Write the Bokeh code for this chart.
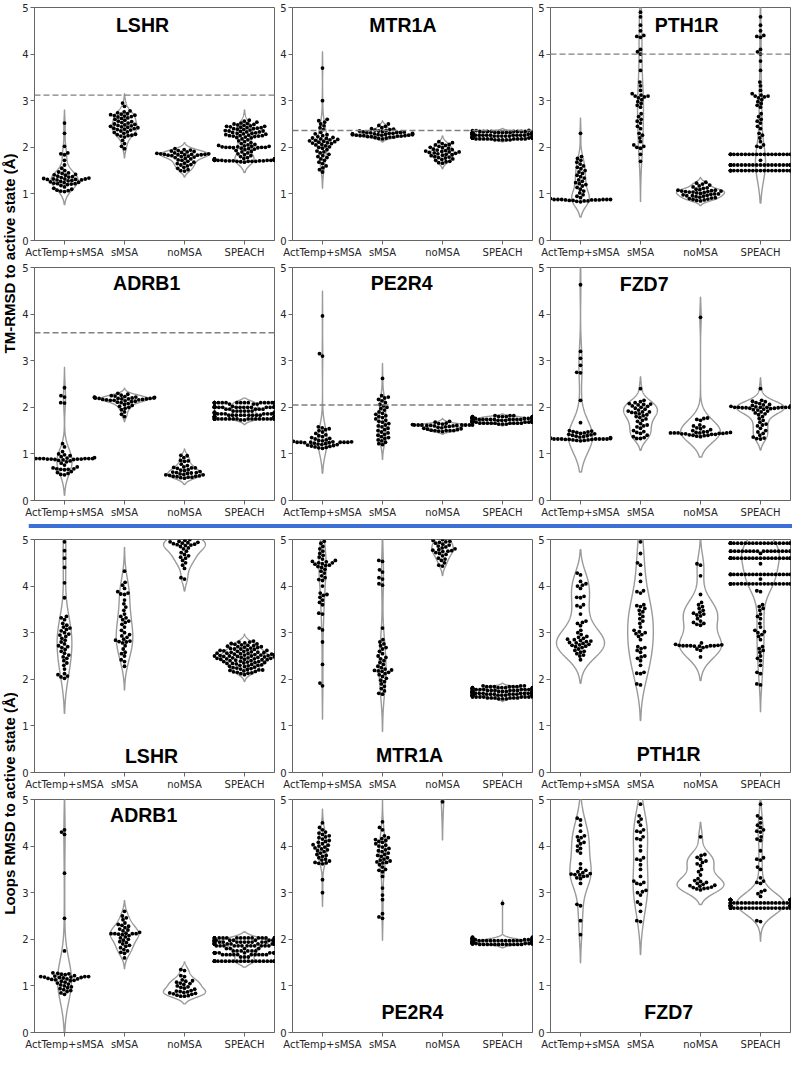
import numpy as np
from bokeh.plotting import figure
from bokeh.layouts import row, column
from bokeh.models import Range1d, FixedTicker, Span, Label
from bokeh.embed import file_html
from bokeh.resources import INLINE

CATEGORIES = ["ActTemp+sMSA", "sMSA", "noMSA", "SPEACH"]
Y_TICKS = [0, 1, 2, 3, 4, 5]
TM_LABEL = "TM-RMSD to active state (Å)"
LOOPS_LABEL = "Loops RMSD to active state (Å)"

# ---------------- TM-RMSD data ----------------
TM_LSHR_ACT = [2.52, 2.30, 2.02, 1.88, 1.86, 1.84, 1.72, 1.62, 1.55, 1.50, 1.47, 1.45, 1.44, 1.42, 1.41, 1.40,
               1.38, 1.37, 1.36, 1.35, 1.34, 1.33, 1.32, 1.32, 1.32, 1.31, 1.31, 1.30, 1.30, 1.29, 1.28, 1.27,
               1.26, 1.25, 1.24, 1.23, 1.22, 1.22, 1.21, 1.20, 1.18, 1.15, 1.12, 1.10, 1.08, 1.07, 1.06, 1.05]
TM_LSHR_SMSA = [2.95, 2.88, 2.78, 2.76, 2.74, 2.72, 2.71, 2.70, 2.69, 2.68, 2.67, 2.66, 2.65, 2.63, 2.62, 2.60,
                2.58, 2.56, 2.55, 2.53, 2.52, 2.50, 2.49, 2.48, 2.47, 2.46, 2.45, 2.44, 2.43, 2.42, 2.41, 2.40,
                2.39, 2.38, 2.37, 2.35, 2.33, 2.32, 2.30, 2.28, 2.27, 2.26, 2.25, 2.24, 2.22, 2.15, 2.08, 2.02, 1.97]
TM_LSHR_NOMSA = [1.97, 1.95, 1.94, 1.93, 1.92, 1.91, 1.90, 1.89, 1.88, 1.87, 1.86, 1.86, 1.85, 1.85, 1.85, 1.84,
                 1.84, 1.84, 1.83, 1.83, 1.82, 1.81, 1.80, 1.79, 1.78, 1.76, 1.75, 1.73, 1.72, 1.70, 1.68, 1.66,
                 1.65, 1.63, 1.62, 1.60, 1.57, 1.55, 1.52, 1.50, 1.49]
TM_LSHR_SPEACH = [2.58, 2.56, 2.54, 2.52, 2.51, 2.50, 2.49, 2.48, 2.47, 2.46, 2.45, 2.45, 2.44, 2.43, 2.42, 2.42,
                  2.41, 2.40, 2.40, 2.39, 2.38, 2.37, 2.36, 2.35, 2.35, 2.34, 2.33, 2.33, 2.32, 2.31, 2.30, 2.30,
                  2.29, 2.28, 2.27, 2.26, 2.25, 2.25, 2.25, 2.24, 2.24, 2.23, 2.22, 2.21, 2.20, 2.18, 2.16, 2.14,
                  2.12, 2.10, 2.08, 2.06, 2.05, 2.04, 2.03, 2.02, 2.02, 2.01, 2.01, 2.00, 2.00, 2.00, 2.00, 1.99,
                  1.99, 1.98, 1.97, 1.96, 1.95, 1.93, 1.91, 1.90, 1.88, 1.86, 1.84, 1.82, 1.80, 1.78, 1.76] + \
                 [1.75] * 4 + [1.74] * 4 + [1.73] * 5 + [1.72] * 8 + [1.71] * 5 + [1.70] * 4 + [1.69, 1.68]

TM_MTR1A_ACT = [3.70, 3.00, 2.60, 2.57, 2.54, 2.50, 2.46, 2.42, 2.38, 2.32, 2.29, 2.27, 2.25, 2.23, 2.21, 2.20,
                2.19, 2.18, 2.17, 2.16, 2.15, 2.14, 2.13, 2.12, 2.11, 2.10, 2.09, 2.08, 2.06, 2.05, 2.03, 2.01,
                2.00, 1.98, 1.95, 1.92, 1.90, 1.88, 1.85, 1.82, 1.80, 1.78, 1.75, 1.72, 1.68, 1.65, 1.60, 1.56,
                1.52, 1.47]
TM_MTR1A_SMSA = [2.50, 2.47, 2.45, 2.42, 2.40, 2.39, 2.38, 2.37, 2.36, 2.35, 2.35, 2.34, 2.33, 2.33, 2.32, 2.32,
                 2.31, 2.31, 2.30, 2.30, 2.30, 2.29, 2.29, 2.28, 2.28, 2.28, 2.27, 2.27, 2.27, 2.26, 2.26, 2.26,
                 2.25, 2.25, 2.25, 2.24, 2.24, 2.23, 2.23, 2.22, 2.22, 2.21, 2.20, 2.19, 2.18]
TM_MTR1A_NOMSA = [2.12, 2.10, 2.08, 2.06, 2.05, 2.04, 2.02, 2.00, 1.99, 1.98, 1.96, 1.95, 1.94, 1.93, 1.92, 1.91,
                  1.90, 1.90, 1.89, 1.88, 1.87, 1.86, 1.85, 1.84, 1.83, 1.82, 1.80, 1.79, 1.78, 1.77, 1.75, 1.74,
                  1.72, 1.70, 1.69, 1.67, 1.66]
TM_MTR1A_SPEACH = [2.36] * 3 + [2.34] * 8 + [2.32] * 11 + [2.30] * 12 + [2.28] * 12 + [2.26] * 10 + \
                  [2.24] * 10 + [2.22] * 12 + [2.20] * 14 + [2.18] * 9 + [2.16] * 5

TM_PTH1R_ACT = [2.30, 1.80, 1.76, 1.72, 1.68, 1.64, 1.60, 1.57, 1.54, 1.50, 1.47, 1.44, 1.40, 1.37, 1.34, 1.30,
                1.27, 1.24, 1.22, 1.20, 1.17, 1.14, 1.10, 1.06, 1.02, 0.98, 0.95, 0.92, 0.90, 0.88, 0.88, 0.88,
                0.88, 0.88, 0.88, 0.87, 0.87, 0.87, 0.87, 0.86, 0.86, 0.85, 0.85, 0.84, 0.83]
TM_PTH1R_SMSA = [5.10, 4.90, 4.80, 4.62, 4.50, 4.40, 4.38, 4.36, 4.10, 4.05, 4.00, 3.85, 3.65, 3.40, 3.32, 3.22,
                 3.15, 3.12, 3.10, 3.10, 3.08, 3.06, 3.02, 2.98, 2.94, 2.90, 2.86, 2.72, 2.66, 2.60, 2.56, 2.52,
                 2.45, 2.40, 2.30, 2.26, 2.20, 2.12, 2.05, 2.02, 2.00, 1.98, 1.85, 1.70]
TM_PTH1R_NOMSA = [1.25, 1.23, 1.21, 1.19, 1.17, 1.15, 1.13, 1.12, 1.10, 1.09, 1.08, 1.08, 1.07, 1.06, 1.06, 1.05,
                  1.05, 1.04, 1.04, 1.03, 1.02, 1.01, 1.00, 1.00, 0.99, 0.98, 0.97, 0.96, 0.96, 0.95, 0.94, 0.93,
                  0.92, 0.91, 0.90, 0.89, 0.88, 0.87, 0.86, 0.85]
TM_PTH1R_SPEACH = [4.80, 4.62, 4.50, 4.40, 4.38, 4.36, 4.10, 4.05, 4.00, 3.85, 3.65, 3.40, 3.32, 3.22, 3.15, 3.12,
                   3.10, 3.10, 3.08, 3.06, 3.02, 2.98, 2.94, 2.90, 2.86, 2.72, 2.66, 2.60, 2.56, 2.52, 2.45, 2.40,
                   2.30, 2.26, 2.20, 2.12, 2.05, 2.02, 2.00, 1.72] + [1.85] * 20 + [1.62] * 22 + [1.50] * 22

TM_ADRB1_ACT = [2.42, 2.25, 2.22, 2.10, 2.09, 1.22, 1.15, 1.05, 1.00, 0.98, 0.96, 0.94, 0.92, 0.91, 0.90, 0.90,
                0.90, 0.90, 0.90, 0.90, 0.89, 0.89, 0.89, 0.89, 0.88, 0.88, 0.87, 0.86, 0.85, 0.83, 0.80, 0.76,
                0.72, 0.70, 0.68, 0.68, 0.67, 0.67, 0.66, 0.62, 0.60, 0.58, 0.56, 0.55]
TM_ADRB1_SMSA = [2.30, 2.28, 2.26, 2.25, 2.24, 2.23, 2.22, 2.22, 2.21, 2.21, 2.20, 2.20, 2.20, 2.19, 2.19, 2.19,
                 2.18, 2.18, 2.18, 2.17, 2.17, 2.16, 2.16, 2.15, 2.15, 2.14, 2.13, 2.12, 2.11, 2.10, 2.08, 2.06,
                 2.04, 2.02, 2.00, 1.98, 1.95, 1.90, 1.85, 1.80]
TM_ADRB1_NOMSA = [0.97, 0.96, 0.92, 0.86, 0.85, 0.84, 0.78, 0.75, 0.72, 0.71, 0.70, 0.70, 0.69, 0.66, 0.65, 0.64,
                  0.62, 0.61, 0.60, 0.60, 0.59, 0.58, 0.57, 0.56, 0.55, 0.55, 0.54, 0.53, 0.52, 0.52, 0.51, 0.50,
                  0.50, 0.49, 0.48]
TM_ADRB1_SPEACH = [2.10] * 20 + [2.07] * 3 + [2.02] * 4 + [2.00] * 20 + [1.96] * 5 + [1.92] * 6 + [1.89] * 7 + \
                  [1.86] * 8 + [1.83] * 9 + [1.80] * 8 + [1.78] * 5 + [1.75] * 20 + [1.73] * 2

TM_PE2R4_ACT = [3.96, 3.15, 3.10, 1.58, 1.56, 1.54, 1.52, 1.50, 1.47, 1.44, 1.41, 1.39, 1.37, 1.35, 1.33, 1.32,
                1.30, 1.29, 1.28, 1.27, 1.26, 1.26, 1.25, 1.25, 1.25, 1.25, 1.25, 1.25, 1.24, 1.24, 1.23, 1.22,
                1.21, 1.20, 1.20, 1.19, 1.18, 1.17, 1.16, 1.15, 1.14, 1.13, 1.12]
TM_PE2R4_SMSA = [2.62, 2.25, 2.22, 2.20, 2.17, 2.14, 2.10, 2.06, 2.03, 2.00, 1.97, 1.94, 1.90, 1.87, 1.85, 1.82,
                 1.80, 1.78, 1.75, 1.72, 1.70, 1.68, 1.65, 1.62, 1.60, 1.58, 1.55, 1.52, 1.50, 1.47, 1.45, 1.42,
                 1.40, 1.37, 1.35, 1.33, 1.30, 1.28, 1.25, 1.22, 1.20]
TM_PE2R4_NOMSA = [1.70, 1.68, 1.66, 1.65, 1.64, 1.63, 1.62, 1.62, 1.62, 1.62, 1.62, 1.62, 1.62, 1.61, 1.61, 1.61,
                  1.60, 1.60, 1.59, 1.58, 1.57, 1.56, 1.55, 1.54, 1.53, 1.52, 1.51, 1.50, 1.50, 1.50, 1.50, 1.49,
                  1.48]
TM_PE2R4_SPEACH = [1.82] * 3 + [1.80] * 9 + [1.78] * 12 + [1.76] * 12 + [1.74] * 10 + [1.72] * 10 + \
                  [1.70] * 12 + [1.68] * 12 + [1.66] * 9 + [1.64] * 3

TM_FZD7_ACT = [4.63, 3.20, 3.05, 2.90, 2.75, 2.74, 2.15, 1.67, 1.50, 1.49, 1.48, 1.47, 1.46, 1.45, 1.44, 1.43,
               1.42, 1.41, 1.40, 1.39, 1.38, 1.37, 1.36, 1.35, 1.34, 1.33, 1.33, 1.32, 1.32, 1.32, 1.32, 1.32,
               1.32, 1.32, 1.31, 1.31, 1.31, 1.30, 1.30, 1.29, 1.29, 1.28]
TM_FZD7_SMSA = [2.40, 2.15, 2.12, 2.10, 2.08, 2.07, 2.06, 2.05, 2.03, 2.02, 2.00, 1.98, 1.96, 1.94, 1.92, 1.90,
                1.90, 1.89, 1.88, 1.86, 1.84, 1.82, 1.80, 1.78, 1.75, 1.72, 1.70, 1.65, 1.62, 1.60, 1.58, 1.55,
                1.50, 1.48, 1.46, 1.44, 1.40, 1.37, 1.35, 1.33, 1.33]
TM_FZD7_NOMSA = [3.93, 1.77, 1.76, 1.74, 1.72, 1.62, 1.60, 1.58, 1.56, 1.54, 1.52, 1.50, 1.48, 1.47, 1.46, 1.46,
                 1.45, 1.45, 1.45, 1.45, 1.45, 1.44, 1.44, 1.43, 1.43, 1.42, 1.42, 1.41, 1.40, 1.40, 1.39, 1.38,
                 1.37]
TM_FZD7_SPEACH = [2.40, 2.15, 2.13, 2.12, 2.10, 2.08, 2.06, 2.05, 2.04, 2.03, 2.02, 2.01, 2.00, 2.00, 2.00, 2.00,
                  2.00, 2.00, 2.00, 1.99, 1.99, 1.99, 1.98, 1.98, 1.97, 1.96, 1.95, 1.94, 1.92, 1.90, 1.88, 1.86,
                  1.84, 1.80, 1.76, 1.72, 1.68, 1.64, 1.62, 1.60, 1.55, 1.50, 1.47, 1.44, 1.40, 1.36, 1.34, 1.33,
                  1.32]

# ---------------- Loops RMSD data ----------------
LP_LSHR_ACT = [5.10, 4.95, 4.76, 4.60, 4.40, 4.07, 3.75, 3.35, 3.32, 3.28, 3.20, 3.16, 3.12, 3.10, 3.07, 3.04,
               3.00, 2.97, 2.95, 2.92, 2.88, 2.84, 2.80, 2.76, 2.72, 2.70, 2.68, 2.64, 2.60, 2.56, 2.52, 2.48,
               2.45, 2.40, 2.35, 2.30, 2.22, 2.12, 2.10, 2.07, 2.05, 2.02]
LP_LSHR_SMSA = [4.32, 4.08, 4.02, 3.95, 3.88, 3.85, 3.83, 3.82, 3.70, 3.62, 3.55, 3.48, 3.40, 3.35, 3.32, 3.28,
                3.25, 3.22, 3.18, 3.12, 3.05, 3.00, 2.96, 2.93, 2.90, 2.86, 2.84, 2.82, 2.81, 2.80, 2.78, 2.72,
                2.65, 2.58, 2.55, 2.50, 2.42, 2.38, 2.28]
LP_LSHR_NOMSA = [5.20, 5.10, 5.05, 5.00, 4.98, 4.96, 4.95, 4.94, 4.93, 4.92, 4.91, 4.90, 4.89, 4.88, 4.87, 4.85,
                 4.82, 4.80, 4.75, 4.72, 4.68, 4.65, 4.62, 4.60, 4.55, 4.50, 4.45, 4.38, 4.18, 4.15]
LP_LSHR_SPEACH = [2.82, 2.80, 2.80, 2.78, 2.77, 2.76, 2.75, 2.74, 2.73, 2.72, 2.71, 2.70, 2.70, 2.69, 2.68, 2.67,
                  2.66, 2.65, 2.65, 2.64, 2.63, 2.62, 2.62, 2.61, 2.60, 2.60, 2.59, 2.58, 2.58, 2.57, 2.56, 2.56,
                  2.55, 2.55, 2.54, 2.54, 2.53, 2.53, 2.52, 2.52, 2.51, 2.51, 2.50, 2.50, 2.50, 2.49, 2.49, 2.48,
                  2.48, 2.47, 2.47, 2.46, 2.46, 2.45, 2.45, 2.44, 2.44, 2.43, 2.43, 2.42, 2.42, 2.41, 2.40, 2.40,
                  2.39, 2.38, 2.38, 2.37, 2.36, 2.36, 2.35, 2.34, 2.34, 2.33, 2.32, 2.31, 2.30, 2.30, 2.29, 2.28,
                  2.27, 2.26, 2.25, 2.24, 2.23, 2.22, 2.21, 2.20, 2.20, 2.19, 2.18, 2.17, 2.16, 2.15, 2.14, 2.13,
                  2.12, 2.10]

LP_MTR1A_ACT = [5.05, 4.96, 4.92, 4.85, 4.80, 4.75, 4.70, 4.66, 4.62, 4.58, 4.55, 4.53, 4.52, 4.50, 4.50, 4.48,
                4.47, 4.45, 4.44, 4.42, 4.40, 4.36, 4.32, 4.28, 4.22, 4.18, 4.14, 4.12, 4.00, 3.85, 3.82, 3.80,
                3.76, 3.70, 3.65, 3.60, 3.42, 3.40, 3.10, 3.06, 2.80, 2.32, 1.92, 1.86]
LP_MTR1A_SMSA = [4.55, 4.53, 4.35, 4.30, 4.18, 4.15, 4.05, 4.02, 3.10, 2.85, 2.80, 2.76, 2.72, 2.68, 2.65, 2.60,
                 2.55, 2.50, 2.47, 2.44, 2.40, 2.36, 2.32, 2.28, 2.25, 2.22, 2.20, 2.19, 2.18, 2.17, 2.15, 2.12,
                 2.10, 2.06, 2.02, 1.98, 1.95, 1.90, 1.85, 1.80, 1.75, 1.70, 1.68]
LP_MTR1A_NOMSA = [5.30, 5.15, 5.05, 5.00, 4.98, 4.96, 4.95, 4.94, 4.92, 4.90, 4.88, 4.86, 4.84, 4.82, 4.80, 4.78,
                  4.77, 4.76, 4.75, 4.74, 4.72, 4.70, 4.68, 4.65, 4.60, 4.58, 4.55, 4.50, 4.45, 4.43]
LP_MTR1A_SPEACH = [1.86] * 3 + [1.84] * 6 + [1.82] * 8 + [1.80] * 9 + [1.78] * 9 + [1.76] * 10 + [1.74] * 10 + \
                  [1.72] * 10 + [1.70] * 10 + [1.68] * 10 + [1.66] * 9 + [1.64] * 9 + [1.62] * 8 + [1.60] * 6 + \
                  [1.58] * 3

LP_PTH1R_ACT = [4.28, 4.24, 4.10, 4.05, 4.02, 4.00, 3.95, 3.78, 3.76, 3.75, 3.60, 3.58, 3.55, 3.40, 3.25, 3.22,
                3.20, 3.15, 3.05, 3.00, 2.96, 2.92, 2.90, 2.88, 2.86, 2.85, 2.83, 2.82, 2.81, 2.79, 2.78, 2.77,
                2.75, 2.74, 2.73, 2.71, 2.70, 2.68, 2.65, 2.62, 2.60, 2.58, 2.55, 2.52, 2.50, 2.42]
LP_PTH1R_SMSA = [5.20, 4.95, 4.70, 4.50, 4.45, 4.25, 4.10, 3.90, 3.88, 3.85, 3.60, 3.58, 3.56, 3.52, 3.48, 3.45,
                 3.40, 3.35, 3.30, 3.25, 3.20, 3.12, 3.05, 3.02, 3.00, 2.98, 2.96, 2.92, 2.85, 2.70, 2.68, 2.66,
                 2.62, 2.58, 2.50, 2.48, 2.45, 2.40, 2.30, 2.15, 2.13, 2.12, 1.90, 1.88]
LP_PTH1R_NOMSA = [4.48, 4.45, 4.22, 3.82, 3.65, 3.60, 3.56, 3.52, 3.48, 3.44, 3.42, 3.40, 3.38, 3.36, 3.30, 3.25,
                  3.22, 3.20, 3.18, 3.16, 2.78, 2.75, 2.74, 2.73, 2.73, 2.72, 2.72, 2.72, 2.72, 2.72, 2.71, 2.71,
                  2.70, 2.68, 2.65, 2.62, 2.48]
LP_PTH1R_SPEACH = [4.92] * 22 + [4.75] * 18 + [4.70] + [4.60] * 22 + [4.48] + [4.25] * 20 + [4.15] + \
                  [4.05] * 20 + [3.90, 3.88, 3.60, 3.56, 3.52, 3.48, 3.40, 3.35, 3.30, 3.20, 3.12, 3.05, 3.02,
                                 3.00, 2.96, 2.92, 2.85, 2.70, 2.66, 2.62, 2.58, 2.50, 2.45, 2.40, 2.30, 2.15,
                                 2.12, 1.90, 1.88]

LP_ADRB1_ACT = [4.35, 4.30, 4.25, 3.42, 2.45, 1.75, 1.28, 1.27, 1.26, 1.25, 1.24, 1.22, 1.21, 1.20, 1.20, 1.20,
                1.19, 1.19, 1.18, 1.18, 1.17, 1.16, 1.15, 1.15, 1.14, 1.13, 1.12, 1.11, 1.10, 1.08, 1.06, 1.04,
                1.02, 1.00, 0.98, 0.96, 0.94, 0.92, 0.90, 0.88, 0.85, 0.82]
LP_ADRB1_SMSA = [2.60, 2.50, 2.46, 2.42, 2.35, 2.32, 2.30, 2.28, 2.25, 2.22, 2.20, 2.18, 2.15, 2.13, 2.12, 2.12,
                 2.12, 2.12, 2.11, 2.10, 2.08, 2.05, 2.03, 2.00, 1.98, 1.95, 1.93, 1.90, 1.87, 1.85, 1.82, 1.78,
                 1.75, 1.72, 1.70, 1.60]
LP_ADRB1_NOMSA = [1.35, 1.33, 1.22, 1.20, 1.13, 1.11, 1.10, 1.08, 1.06, 1.05, 1.03, 1.00, 0.98, 0.97, 0.95, 0.93,
                  0.90, 0.89, 0.88, 0.87, 0.86, 0.85, 0.84, 0.83, 0.82, 0.80, 0.79, 0.78, 0.78]
LP_ADRB1_SPEACH = [2.03] * 18 + [1.98] * 16 + [1.94] * 18 + [1.90] * 18 + [1.86] * 12 + [1.80] * 4 + \
                  [1.75] * 6 + [1.71] * 12 + [1.67] * 10 + [1.62] * 3 + [1.53] * 22

LP_PE2R4_ACT = [4.50, 4.40, 4.35, 4.30, 4.28, 4.25, 4.22, 4.20, 4.18, 4.15, 4.12, 4.10, 4.08, 4.05, 4.03, 4.02,
                4.00, 3.98, 3.96, 3.94, 3.92, 3.90, 3.88, 3.85, 3.82, 3.80, 3.78, 3.75, 3.72, 3.70, 3.68, 3.65,
                3.64, 3.63, 3.62, 3.28, 3.00]
LP_PE2R4_SMSA = [4.52, 4.40, 4.35, 4.22, 4.18, 4.16, 4.14, 4.12, 4.10, 4.08, 4.05, 4.02, 4.00, 3.98, 3.95, 3.92,
                 3.90, 3.88, 3.85, 3.82, 3.80, 3.78, 3.75, 3.72, 3.70, 3.68, 3.66, 3.65, 3.64, 3.60, 3.55, 3.50,
                 3.48, 3.45, 3.35, 3.10, 2.95, 2.85, 2.55, 2.48, 2.45]
LP_PE2R4_NOMSA = [4.95, 5.10, 5.30, 5.50, 5.80, 6.00, 6.20, 6.50, 6.80]
LP_PE2R4_SPEACH = [2.77] + [2.04] * 6 + [2.01] * 10 + [1.99] * 12 + [1.97] * 14 + [1.95] * 16 + [1.93] * 18 + \
                  [1.91] * 18 + [1.89] * 12

LP_FZD7_ACT = [4.60, 4.56, 4.45, 4.32, 4.22, 4.20, 4.18, 4.12, 4.08, 4.05, 4.00, 3.95, 3.90, 3.85, 3.62, 3.52,
               3.48, 3.45, 3.43, 3.41, 3.40, 3.39, 3.38, 3.36, 3.35, 3.32, 3.30, 3.20, 2.75, 2.72, 2.40, 2.10]
LP_FZD7_SMSA = [4.90, 4.65, 4.58, 4.52, 4.45, 4.35, 4.32, 4.30, 4.20, 4.16, 4.14, 4.00, 3.90, 3.75, 3.72, 3.70,
                3.60, 3.50, 3.35, 3.25, 3.22, 3.20, 3.18, 3.05, 3.02, 3.00, 2.95, 2.80, 2.75, 2.60, 2.40, 2.38]
LP_FZD7_NOMSA = [4.20, 3.82, 3.80, 3.76, 3.72, 3.68, 3.65, 3.62, 3.58, 3.50, 3.45, 3.38, 3.30, 3.26, 3.24, 3.22,
                 3.20, 3.18, 3.16, 3.15, 3.14, 3.12, 3.11, 3.10, 3.09, 3.08, 3.06]
LP_FZD7_SPEACH = [4.90, 4.65, 4.60, 4.50, 4.45, 4.40, 4.35, 4.32, 4.30, 4.20, 4.15, 4.12, 3.90, 3.75, 3.72, 3.70,
                  3.55, 3.50, 3.32, 3.25, 3.22, 3.20, 3.05, 3.02, 2.98, 2.92] + \
                 [2.85] * 22 + [2.78] * 22 + [2.72] * 22 + [2.67] * 20 + [2.40, 2.38]

# panel names, reference (dashed) lines
PANEL_NAMES = ["LSHR", "MTR1A", "PTH1R", "ADRB1", "PE2R4", "FZD7",
               "LSHR", "MTR1A", "PTH1R", "ADRB1", "PE2R4", "FZD7"]
REF_LINES = [3.12, 2.36, 4.00, 3.60, 2.05, None, None, None, None, None, None, None]

PANEL_DATA = [
    [TM_LSHR_ACT, TM_LSHR_SMSA, TM_LSHR_NOMSA, TM_LSHR_SPEACH],
    [TM_MTR1A_ACT, TM_MTR1A_SMSA, TM_MTR1A_NOMSA, TM_MTR1A_SPEACH],
    [TM_PTH1R_ACT, TM_PTH1R_SMSA, TM_PTH1R_NOMSA, TM_PTH1R_SPEACH],
    [TM_ADRB1_ACT, TM_ADRB1_SMSA, TM_ADRB1_NOMSA, TM_ADRB1_SPEACH],
    [TM_PE2R4_ACT, TM_PE2R4_SMSA, TM_PE2R4_NOMSA, TM_PE2R4_SPEACH],
    [TM_FZD7_ACT, TM_FZD7_SMSA, TM_FZD7_NOMSA, TM_FZD7_SPEACH],
    [LP_LSHR_ACT, LP_LSHR_SMSA, LP_LSHR_NOMSA, LP_LSHR_SPEACH],
    [LP_MTR1A_ACT, LP_MTR1A_SMSA, LP_MTR1A_NOMSA, LP_MTR1A_SPEACH],
    [LP_PTH1R_ACT, LP_PTH1R_SMSA, LP_PTH1R_NOMSA, LP_PTH1R_SPEACH],
    [LP_ADRB1_ACT, LP_ADRB1_SMSA, LP_ADRB1_NOMSA, LP_ADRB1_SPEACH],
    [LP_PE2R4_ACT, LP_PE2R4_SMSA, LP_PE2R4_NOMSA, LP_PE2R4_SPEACH],
    [LP_FZD7_ACT, LP_FZD7_SMSA, LP_FZD7_NOMSA, LP_FZD7_SPEACH],
]

# ---------------- layout / style (not data) ----------------
TITLE_POS = [(1.30, 4.62), (1.34, 4.62), (1.77, 4.62),
             (1.37, 4.66), (1.32, 4.66), (1.06, 4.64),
             (1.45, 0.36), (1.45, 0.38), (1.47, 0.40),
             (1.32, 4.66), (1.50, 0.43), (1.47, 0.43)]
FIG_W, FIG_H = 258, 260
B_L, B_R, B_T, B_B = 16, 2, 7, 19
FRAME_W = FIG_W - B_L - B_R
FRAME_H = FIG_H - B_T - B_B
SEP_H = 12
DOT = 3.8
VIOLIN_COLOR = "#9a9a9a"
SPINE = "#666666"
TICK_TEXT = "#262626"


def kde(vals, cut=2.0, n=240):
    v = np.asarray(vals, dtype=float)
    bw = len(v) ** (-0.2) * v.std(ddof=1)
    grid = np.linspace(v.min() - cut * bw, v.max() + cut * bw, n)
    dens = np.exp(-0.5 * ((grid[:, None] - v[None, :]) / bw) ** 2).sum(axis=1) / (len(v) * bw * np.sqrt(2 * np.pi))
    return grid, dens


def swarm_offsets(vals, ypx, d, maxoff):
    v = np.asarray(vals, dtype=float)
    order = np.argsort(v, kind="stable")
    placed_x, placed_y = [], []
    offs = np.zeros(len(v))
    for i in order:
        y = v[i] * ypx
        nb = [(px, py) for px, py in zip(placed_x, placed_y) if abs(py - y) < d]
        cands = [0.0]
        for px, py in nb:
            dx = np.sqrt(max(d * d - (py - y) ** 2, 0.0))
            cands += [px + dx, px - dx]
        cands.sort(key=lambda c: (abs(c), c))
        chosen = cands[-1]
        for c in cands:
            if all((c - px) ** 2 + (y - py) ** 2 >= d * d - 1e-6 for px, py in nb):
                chosen = c
                break
        placed_x.append(chosen)
        placed_y.append(y)
        offs[i] = chosen
    return np.clip(offs, -maxoff, maxoff)


def make_panel(k):
    groups = PANEL_DATA[k]
    p = figure(width=FIG_W, height=FIG_H, x_range=Range1d(-0.5, 3.5), y_range=Range1d(0, 5),
               output_backend="svg", toolbar_location=None,
               min_border_left=B_L, min_border_right=B_R, min_border_top=B_T, min_border_bottom=B_B)
    p.grid.visible = False
    p.outline_line_color = SPINE
    p.outline_line_width = 1.0
    xppu = FRAME_W / 4.0
    yppu = FRAME_H / 5.0

    kdes = [kde(g) for g in groups]
    maxd = max(d.max() for _, d in kdes)
    for i, (grid, dens) in enumerate(kdes):
        hw = 0.4 * dens / maxd
        xs = np.concatenate([i + hw, (i - hw)[::-1]])
        ys = np.concatenate([grid, grid[::-1]])
        p.patch(xs, ys, fill_color=None, line_color=VIOLIN_COLOR, line_width=1.4)

    for i, g in enumerate(groups):
        offs = swarm_offsets(g, yppu, DOT, 0.5 * xppu) / xppu
        p.scatter(i + offs, np.asarray(g, dtype=float), size=DOT, fill_color="black", line_color=None)

    if REF_LINES[k] is not None:
        p.add_layout(Span(location=REF_LINES[k], dimension="width", line_color="#808080",
                          line_dash="6 3", line_width=1.4))
    tx, ty = TITLE_POS[k]
    p.add_layout(Label(x=tx, y=ty, text=PANEL_NAMES[k], text_font="Liberation Sans",
                       text_font_style="bold", text_font_size="19.5px", text_align="center",
                       text_baseline="middle", text_color="black"))

    p.xaxis.ticker = FixedTicker(ticks=[0, 1, 2, 3])
    p.xaxis.major_label_overrides = {i: c for i, c in enumerate(CATEGORIES)}
    p.yaxis.ticker = FixedTicker(ticks=Y_TICKS)
    for ax in (p.xaxis, p.yaxis):
        ax.minor_tick_line_color = None
        ax.major_tick_in = 0
        ax.major_tick_out = 4
        ax.major_tick_line_color = SPINE
        ax.axis_line_color = SPINE
        ax.major_label_standoff = 2
        ax.major_label_text_font = "DejaVu Sans"
        ax.major_label_text_font_size = "10px"
        ax.major_label_text_color = TICK_TEXT
    return p


panels = [make_panel(k) for k in range(12)]
rows = [row(panels[3 * r:3 * r + 3]) for r in range(4)]

# blue separator
sep = figure(width=3 * FIG_W, height=SEP_H, x_range=Range1d(0, 1), y_range=Range1d(0, 1),
             output_backend="svg", toolbar_location=None, x_axis_location=None, y_axis_location=None,
             min_border_left=10, min_border_right=0, min_border_top=0, min_border_bottom=0)
sep.grid.visible = False
sep.outline_line_color = None
sep.add_layout(Span(location=0.55, dimension="width", line_color="#3d6fd6", line_width=4))

TOTAL_H = 4 * FIG_H + SEP_H
lab = figure(width=18, height=TOTAL_H, x_range=Range1d(0, 1), y_range=Range1d(0, TOTAL_H),
             output_backend="svg", toolbar_location=None, x_axis_location=None, y_axis_location=None,
             min_border_left=0, min_border_right=0, min_border_top=0, min_border_bottom=0)
lab.grid.visible = False
lab.outline_line_color = None
lab.add_layout(Label(x=0.5, y=TOTAL_H - 253, text=TM_LABEL, angle=np.pi / 2, text_align="center",
                     text_baseline="middle", text_font="Liberation Sans", text_font_style="bold",
                     text_font_size="15px", text_color="black"))
lab.add_layout(Label(x=0.5, y=TOTAL_H - 803, text=LOOPS_LABEL, angle=np.pi / 2, text_align="center",
                     text_baseline="middle", text_font="Liberation Sans", text_font_style="bold",
                     text_font_size="15px", text_color="black"))

layout = row(lab, column(rows[0], rows[1], sep, rows[2], rows[3]))
open("out.html", "w").write(file_html(layout, INLINE))
